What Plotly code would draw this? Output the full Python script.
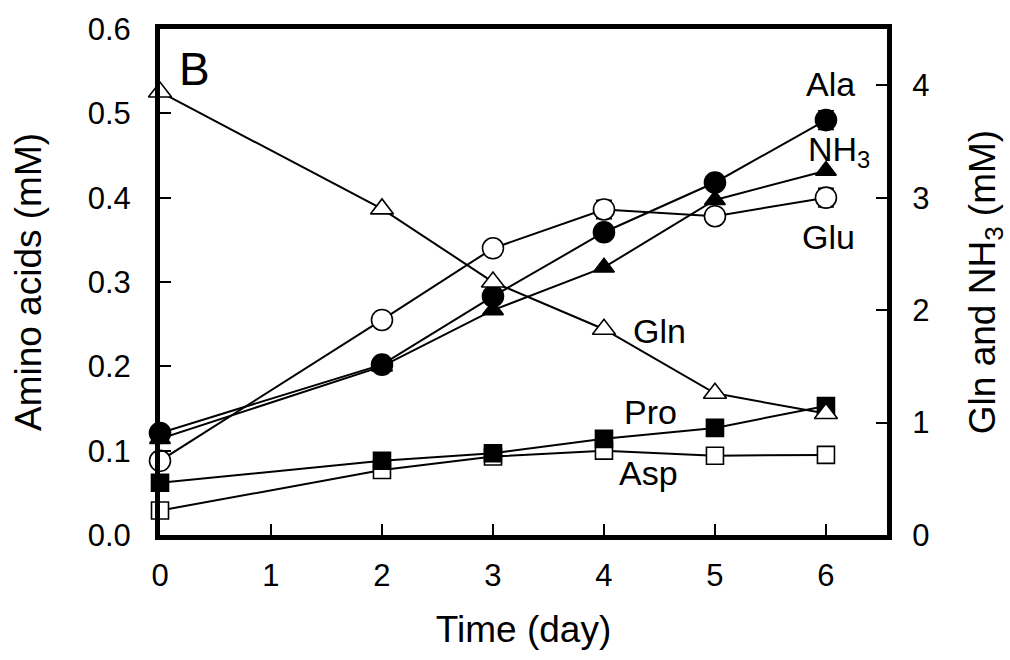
import plotly.graph_objects as go

# Sampling days
days = [0, 2, 3, 4, 5, 6]

# Amino acids (mM), left axis
ala = [0.121, 0.202, 0.283, 0.359, 0.418, 0.492]
glu = [0.088, 0.255, 0.340, 0.386, 0.378, 0.400]
pro = [0.062, 0.088, 0.097, 0.114, 0.127, 0.153]
asp = [0.029, 0.077, 0.093, 0.100, 0.094, 0.095]
ala_err = [0, 0, 0, 0, 0, 0.011]
glu_err = [0, 0, 0, 0.011, 0, 0.011]

# Gln and NH3 (mM), right axis
gln = [3.94, 2.90, 2.25, 1.83, 1.26, 1.08]
nh3 = [0.855, 1.50, 2.00, 2.38, 2.98, 3.24]

left_ticks = [0.0, 0.1, 0.2, 0.3, 0.4, 0.5, 0.6]
left_ticktext = ["0.0", "0.1", "0.2", "0.3", "0.4", "0.5", "0.6"]
right_ticks = [0, 1, 2, 3, 4]
x_ticks = [0, 1, 2, 3, 4, 5, 6]

FONT = "Liberation Sans, Arial, sans-serif"
LINE = dict(color="black", width=2)
TICK_SIZE = 31
TITLE_SIZE = 37
LABEL_SIZE = 34


def series(y, symbol, size, filled, axis="y", err=None):
    marker = dict(
        symbol=symbol,
        size=size,
        color="black" if filled else "white",
        line=dict(color="black", width=1.6),
    )
    tr = go.Scatter(
        x=days, y=y, mode="lines+markers", line=LINE, marker=marker,
        yaxis=axis, cliponaxis=False, showlegend=False,
    )
    if err is not None:
        tr.error_y = dict(type="data", array=err, visible=True,
                          color="black", thickness=1.6, width=8)
    return tr


fig = go.Figure()
fig.add_trace(series(gln, "triangle-up", 20, False, axis="y2"))
fig.add_trace(series(asp, "square", 17, False))
fig.add_trace(series(pro, "square", 17, True))
fig.add_trace(series(glu, "circle", 21, False, err=glu_err))
fig.add_trace(series(nh3, "triangle-up", 18, True, axis="y2"))
fig.add_trace(series(ala, "circle", 21, True, err=ala_err))

labels = [
    ("B", 0.31, 0.553, 46),
    ("Ala", 6.04, 0.535, LABEL_SIZE),
    ("NH<sub>3</sub>", 6.12, 0.455, LABEL_SIZE),
    ("Glu", 6.02, 0.353, LABEL_SIZE),
    ("Gln", 4.50, 0.242, LABEL_SIZE),
    ("Pro", 4.42, 0.146, LABEL_SIZE),
    ("Asp", 4.40, 0.074, LABEL_SIZE),
]
for text, lx, ly, fs in labels:
    fig.add_annotation(x=lx, y=ly, xref="x", yref="y", text=text,
                       showarrow=False, font=dict(family=FONT, size=fs, color="black"))

axis_common = dict(
    showgrid=False, zeroline=False, showline=True, linecolor="black",
    linewidth=5, ticks="inside", ticklen=11, tickwidth=2, tickcolor="black",
    tickfont=dict(family=FONT, size=TICK_SIZE, color="black"),
)
title_font = dict(family=FONT, size=TITLE_SIZE, color="black")

fig.update_layout(
    width=1010, height=660,
    margin=dict(l=160, r=123, t=25, b=125),
    plot_bgcolor="white", paper_bgcolor="white",
    xaxis=dict(
        range=[0, 6.55], tickvals=x_ticks, mirror=True,
        title=dict(text="Time (day)", font=title_font, standoff=25),
        ticklabelstandoff=9,
        **axis_common,
    ),
    yaxis=dict(
        range=[0, 0.6], tickvals=left_ticks, ticktext=left_ticktext,
        title=dict(text="Amino acids (mM)", font=title_font, standoff=36),
        ticklabelstandoff=18,
        **axis_common,
    ),
    yaxis2=dict(
        range=[0, 4.5], tickvals=right_ticks, overlaying="y", side="right",
        title=dict(text="Gln and NH<sub>3</sub> (mM)", font=title_font, standoff=42),
        ticklabelstandoff=14,
        **axis_common,
    ),
)

fig.write_html("out.html")
